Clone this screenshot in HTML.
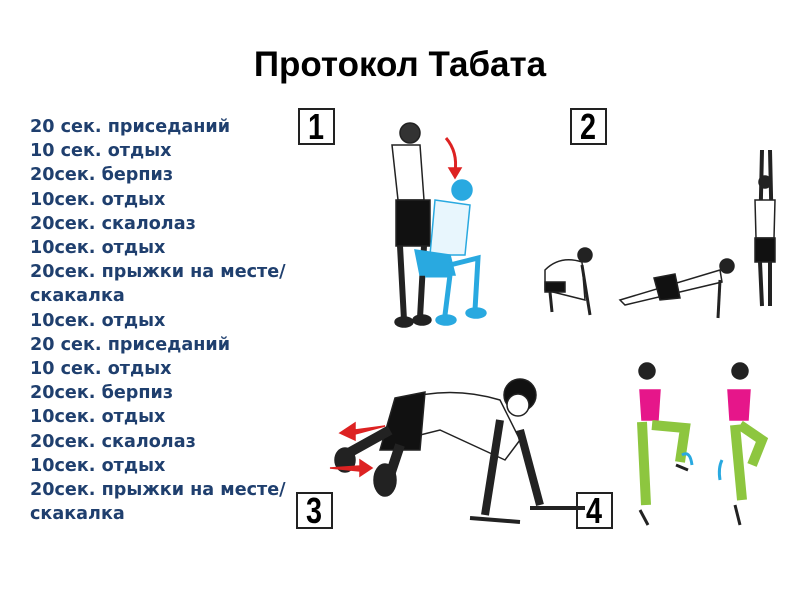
<!DOCTYPE html>
<html><head><meta charset="utf-8"><style>
body{margin:0;width:800px;height:600px;background:#fff;position:relative;overflow:hidden}
h1{position:absolute;left:0;width:800px;top:45px;margin:0;text-align:center;font:bold 35px "Liberation Sans",sans-serif;color:#000}
.list{position:absolute;left:30px;top:115px;font:bold 17.6px/24.2px "DejaVu Sans","Liberation Sans",sans-serif;color:#1f3f6e;white-space:pre}
.box{position:absolute;border:2px solid #222;width:33px;height:33px;text-align:center;color:#000;overflow:hidden}
.box span{display:inline-block;font:bold 36px/34px "Liberation Sans",sans-serif;transform:scaleX(0.8)}
svg{position:absolute;left:0;top:0}
</style></head><body>
<h1>Протокол Табата</h1>
<div class="list">20 сек. приседаний
10 сек. отдых
20сек. берпиз
10сек. отдых
20сек. скалолаз
10сек. отдых
20сек. прыжки на месте/
скакалка
10сек. отдых
20 сек. приседаний
10 сек. отдых
20сек. берпиз
10сек. отдых
20сек. скалолаз
10сек. отдых
20сек. прыжки на месте/
скакалка</div>
<div class="box" style="left:298px;top:108px"><span>1</span></div>
<div class="box" style="left:570px;top:108px"><span>2</span></div>
<div class="box" style="left:296px;top:492px"><span>3</span></div>
<div class="box" style="left:576px;top:492px"><span>4</span></div>
<svg width="800" height="600" stroke="#222" stroke-width="1.5" fill="#fff">
<circle cx="410" cy="133" r="10" fill="#333"/>
<path d="M392 145 L420 145 L424 200 L398 200 Z"/>
<rect x="396" y="200" width="34" height="46" fill="#111"/>
<path d="M400 246 L404 320 M424 246 L420 318" stroke-width="6"/>
<ellipse cx="404" cy="322" rx="9" ry="5" fill="#222"/><ellipse cx="422" cy="320" rx="9" ry="5" fill="#222"/>
<g stroke="#29a9e0" fill="#e8f6fd">
<circle cx="462" cy="190" r="10" fill="#29a9e0"/>
<path d="M435 200 L470 205 L465 255 L430 255 Z"/>
<path d="M415 250 L450 255 L455 275 L420 275 Z" fill="#29a9e0"/>
<path d="M450 265 L478 258 L475 310 M425 275 L450 275 L445 315" stroke-width="5" fill="none"/>
<ellipse cx="446" cy="320" rx="10" ry="5" fill="#29a9e0"/><ellipse cx="476" cy="313" rx="10" ry="5" fill="#29a9e0"/>
</g>
<path d="M446 138 Q458 152 455 172" stroke="#d22" stroke-width="3" fill="none"/><path d="M449 168 L455 178 L461 168Z" fill="#d22" stroke="#d22"/>
<circle cx="585" cy="255" r="7" fill="#222"/>
<path d="M545 270 Q560 255 582 262 L585 300 L545 290 Z"/>
<rect x="545" y="282" width="20" height="10" fill="#111"/>
<path d="M550 292 L552 312 M582 265 L590 315" stroke-width="3"/>
<circle cx="727" cy="266" r="7" fill="#222"/>
<path d="M620 300 L720 270 L722 282 L625 305Z"/>
<path d="M654 278 L675 274 L680 298 L660 300Z" fill="#111"/>
<path d="M720 280 L718 318" stroke-width="3"/>
<path d="M762 150 L760 240 M770 150 L772 240" stroke-width="4"/>
<circle cx="765" cy="182" r="6" fill="#222"/>
<path d="M755 200 L775 200 L774 238 L756 238Z"/>
<rect x="755" y="238" width="20" height="24" fill="#111"/>
<path d="M760 262 L762 306 M770 262 L770 306" stroke-width="4"/>
<path d="M400 400 Q450 385 500 400 L520 440 L505 460 L440 430 L400 440Z"/>
<path d="M395 398 L425 392 L420 450 L380 450Z" fill="#111"/>
<circle cx="520" cy="395" r="16" fill="#111"/><circle cx="518" cy="405" r="11"/>
<path d="M500 420 L485 515 M520 430 L540 505" stroke-width="8" fill="none"/>
<path d="M470 518 L520 522 M530 508 L585 508" stroke-width="4"/>
<path d="M390 430 L345 455 M400 445 L385 490" stroke-width="10" fill="none"/>
<ellipse cx="345" cy="460" rx="10" ry="12" fill="#222"/><ellipse cx="385" cy="480" rx="11" ry="16" fill="#222"/>
<path d="M385 426 L355 430 L355 423 L340 433 L355 440 L355 434 Z" fill="#d22" stroke="#d22"/>
<path d="M330 468 L360 466 L360 460 L372 468 L360 476 L360 471Z" fill="#d22" stroke="#d22"/>
<circle cx="647" cy="371" r="8" fill="#222"/><circle cx="740" cy="371" r="8" fill="#222"/>
<path d="M640 390 L660 390 L658 420 L642 420Z" fill="#e6168a" stroke="#e6168a"/>
<path d="M728 390 L750 390 L748 420 L730 420Z" fill="#e6168a" stroke="#e6168a"/>
<path d="M642 422 L646 505 M652 425 L685 428 L680 462" stroke="#8dc63f" stroke-width="10" fill="none"/>
<path d="M735 425 L742 500 M740 425 L762 440 L752 465" stroke="#8dc63f" stroke-width="10" fill="none"/>
<path d="M640 510 L648 525 M676 465 L688 470 M735 505 L740 525" stroke-width="3"/>
<path d="M692 465 Q690 450 682 455" stroke="#29a9e0" stroke-width="3" fill="none"/>
<path d="M720 480 Q718 468 722 460" stroke="#29a9e0" stroke-width="3" fill="none"/>
</svg>
</body></html>
